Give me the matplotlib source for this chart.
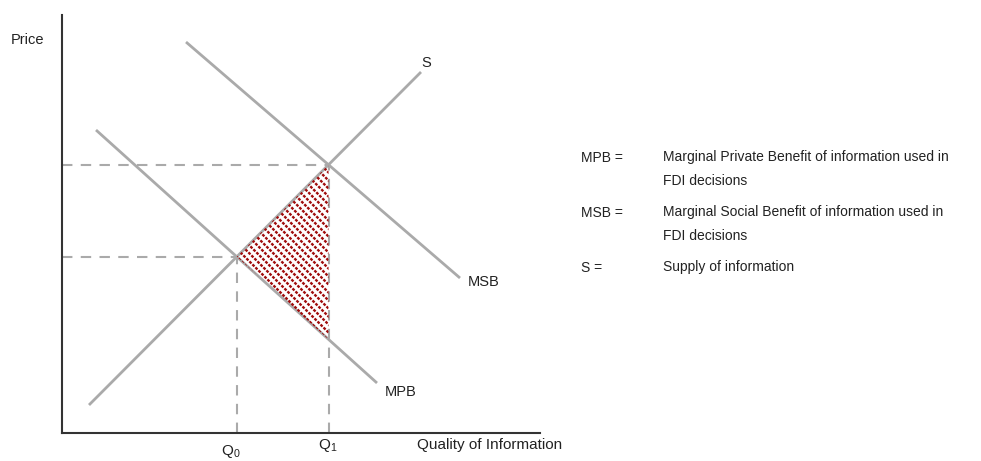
import numpy as np
import matplotlib.pyplot as plt
from matplotlib.patches import Polygon

plt.rcParams['font.family'] = ['Liberation Sans', 'DejaVu Sans']
plt.rcParams['mathtext.fontset'] = 'custom'
plt.rcParams['mathtext.rm'] = 'Liberation Sans'
plt.rcParams['text.color'] = '#222222'

# curve end points (x, y) in chart units
s_curve = [(27, 28), (359, 361)]
mpb_curve = [(34, 303), (315, 50)]
msb_curve = [(124, 391), (398, 155)]

legend_keys = ["MPB =", "MSB =", "S ="]
legend_text = ["Marginal Private Benefit of information used in\nFDI decisions",
               "Marginal Social Benefit of information used in\nFDI decisions",
               "Supply of information"]


def line_coef(pts):
    (x1, y1), (x2, y2) = pts
    m = (y2 - y1) / (x2 - x1)
    return m, y1 - m * x1


def cross(a, b):
    m1, c1 = line_coef(a)
    m2, c2 = line_coef(b)
    x = (c2 - c1) / (m1 - m2)
    return x, m1 * x + c1


q0 = cross(s_curve, mpb_curve)
q1 = cross(s_curve, msb_curve)
m, c = line_coef(mpb_curve)
low = (q1[0], m * q1[0] + c)

fig = plt.figure(figsize=(9.81, 4.61), dpi=100)
ax = fig.add_axes([62 / 981, 28 / 461, 478 / 981, 418 / 461])
ax.set_xlim(0, 478)
ax.set_ylim(0, 418)
for side in ['top', 'right']:
    ax.spines[side].set_visible(False)
for side in ['left', 'bottom']:
    ax.spines[side].set_color('#333333')
    ax.spines[side].set_linewidth(1.5)
ax.set_xticks([])
ax.set_yticks([])

grey = '#aaaaaa'
for pts in (s_curve, mpb_curve, msb_curve):
    xs, ys = zip(*pts)
    ax.plot(xs, ys, color=grey, lw=2, solid_capstyle='butt')

# dashed guides
for px, py in (q0, q1):
    ax.plot([0, px], [py, py], color=grey, lw=1.5, ls=(0, (5, 4)))
    ax.plot([px, px], [0, py], color=grey, lw=1.5, ls=(0, (5, 4)))

# dotted hatch in the welfare triangle
tri = Polygon([q0, q1, low], closed=True, facecolor='none', edgecolor='none')
ax.add_patch(tri)
for k in np.arange(q0[0] + q0[1] - 200, q1[0] + q1[1] + 10, 8):
    ln, = ax.plot([k - 400, k], [400, 0], color='#a00c0c', lw=1.7,
                  ls=(0, (1.2, 0.6)), dash_capstyle='butt')
    ln.set_clip_path(tri)

ax.text(364, 370, "S", fontsize=10.5, ha='center', va='center')
ax.text(422, 151, "MSB", fontsize=10.5, ha='center', va='center')
ax.text(339, 41, "MPB", fontsize=10.5, ha='center', va='center')
ax.text(q0[0] - 6, -18, r"Q$_\mathregular{0}$", fontsize=11, ha='center', va='center')
ax.text(q1[0] - 1, -12, r"Q$_\mathregular{1}$", fontsize=11, ha='center', va='center')
ax.text(355, -12, "Quality of Information", fontsize=11, ha='left', va='center')
ax.text(-35, 393, "Price", fontsize=10.5, ha='center', va='center')

rows = [158, 213, 268]
for key, txt, r in zip(legend_keys, legend_text, rows):
    fig.text(581 / 981, 1 - r / 461, key, fontsize=10, ha='left', va='center')
    fig.text(663 / 981, 1 - (r - 8) / 461, txt, fontsize=10, ha='left', va='top',
             linespacing=1.9)

fig.savefig("out.png", dpi=100)
